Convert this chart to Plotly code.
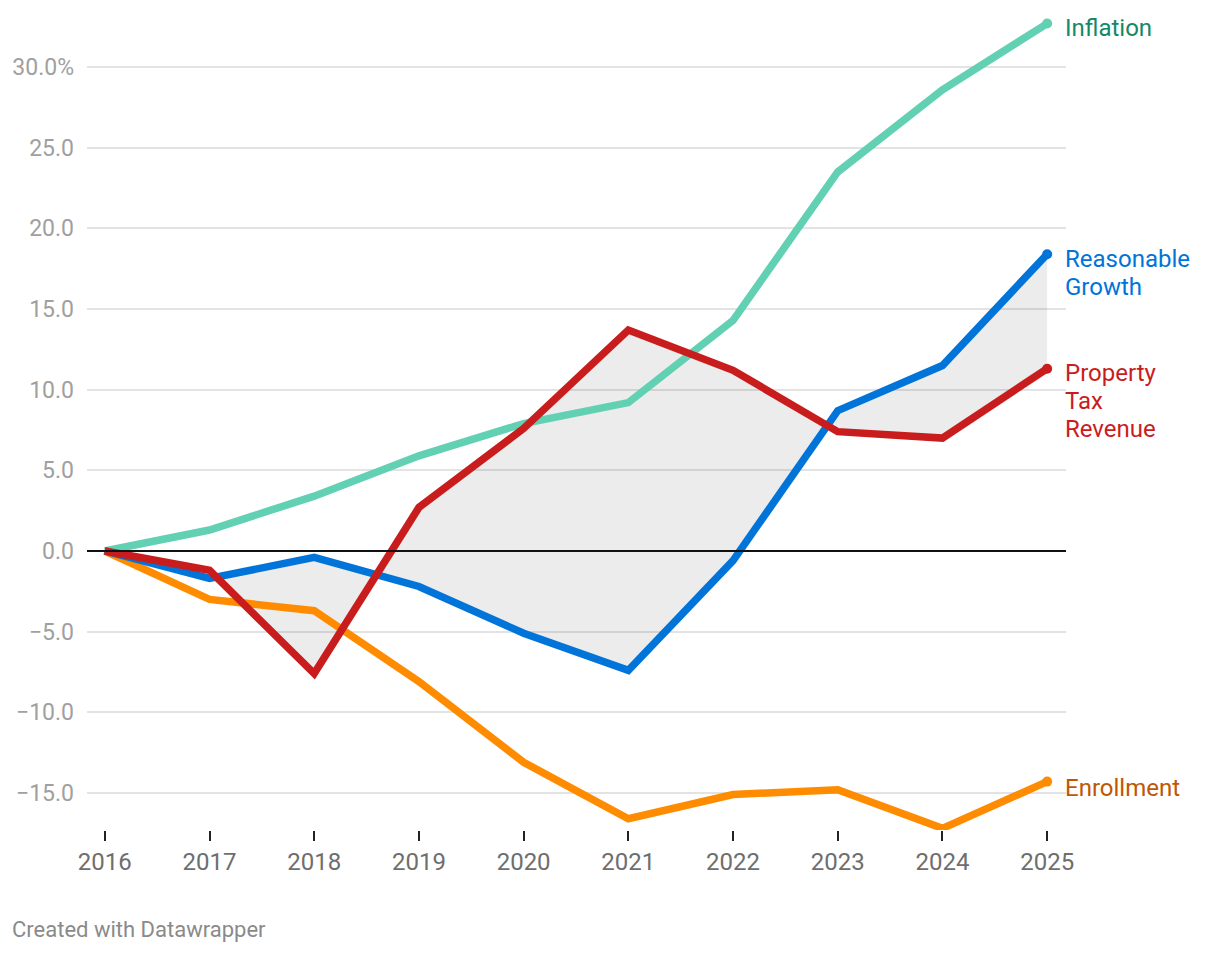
import plotly.graph_objects as go

years = [2016, 2017, 2018, 2019, 2020, 2021, 2022, 2023, 2024, 2025]
inflation = [0, 1.3, 3.4, 5.9, 7.9, 9.2, 14.3, 23.5, 28.6, 32.7]
reasonable_growth = [0, -1.7, -0.4, -2.2, -5.1, -7.4, -0.6, 8.7, 11.5, 18.4]
property_tax = [0, -1.2, -7.6, 2.7, 7.6, 13.7, 11.2, 7.4, 7.0, 11.3]
enrollment = [0, -3.0, -3.7, -8.1, -13.1, -16.6, -15.1, -14.8, -17.2, -14.3]

y_tickvals = [30, 25, 20, 15, 10, 5, 0, -5, -10, -15]
y_ticktext = ["30.0%", "25.0", "20.0", "15.0", "10.0", "5.0", "0.0", "\u22125.0", "\u221210.0", "\u221215.0"]

series = [
    ("Inflation", inflation, "#62d0b2", "#13896a"),
    ("Enrollment", enrollment, "#ff8c00", "#c25600"),
    ("Reasonable Growth", reasonable_growth, "#0074d9", "#0074d9"),
    ("Property Tax Revenue", property_tax, "#c91d1d", "#c91d1d"),
]
label_lines = {
    "Inflation": ["Inflation"],
    "Enrollment": ["Enrollment"],
    "Reasonable Growth": ["Reasonable", "Growth"],
    "Property Tax Revenue": ["Property", "Tax", "Revenue"],
}
label_first_shift = {
    "Inflation": -4,
    "Reasonable Growth": -5,
    "Property Tax Revenue": -4,
    "Enrollment": -6,
}

FONT = "Roboto"
fig = go.Figure()

# shaded area between Reasonable Growth and Property Tax Revenue
fig.add_trace(go.Scatter(x=years, y=reasonable_growth, mode="lines",
                         line=dict(width=0), hoverinfo="skip", showlegend=False))
fig.add_trace(go.Scatter(x=years, y=property_tax, mode="lines",
                         line=dict(width=0), fill="tonexty",
                         fillcolor="rgba(0,0,0,0.075)", hoverinfo="skip", showlegend=False))

for name, vals, col, lcol in series:
    fig.add_trace(go.Scatter(x=years, y=vals, mode="lines", name=name,
                             line=dict(color=col, width=7.5), showlegend=False))
    fig.add_trace(go.Scatter(x=[years[-1]], y=[vals[-1]], mode="markers",
                             marker=dict(color=col, size=10), showlegend=False,
                             hoverinfo="skip"))

for name, vals, col, lcol in series:
    for i, line in enumerate(label_lines[name]):
        fig.add_annotation(x=years[-1], y=vals[-1], xref="x", yref="y",
                           text=line, showarrow=False, xanchor="left", yanchor="middle",
                           xshift=16, yshift=label_first_shift[name] - 28 * i,
                           align="left",
                           font=dict(family=FONT, size=24, color=lcol))

fig.add_shape(type="line", xref="paper", yref="y", x0=0, x1=1, y0=0, y1=0,
              line=dict(color="#111111", width=2), layer="above")

fig.add_annotation(x=0, y=0, xref="paper", yref="paper", xshift=-77, yshift=-114,
                   text="Created with Datawrapper", showarrow=False,
                   xanchor="left", yanchor="bottom",
                   font=dict(family=FONT, size=22, color="#8a8a8a"))

fig.update_layout(
    width=1220, height=954,
    margin=dict(l=79, r=162, t=8, b=132, autoexpand=False),
    paper_bgcolor="white", plot_bgcolor="white",
    font=dict(family=FONT),
    xaxis=dict(range=[2015.83, 2025.18], tickvals=years, ticktext=[str(y) for y in years],
               showgrid=False, zeroline=False, showline=False, automargin=False,
               ticks="outside", ticklen=10, tickwidth=2, tickcolor="#222222",
               tickfont=dict(family=FONT, size=24, color="#6e6e6e")),
    yaxis=dict(range=[-17.3, 33.17], tickvals=y_tickvals, ticktext=y_ticktext,
               showgrid=True, gridcolor="#e3e3e3", gridwidth=2, zeroline=False,
               showline=False, ticks="", ticklabelstandoff=12, automargin=False,
               tickfont=dict(family=FONT, size=23, color="#a0a0a0")),
)

fig.write_html("out.html")
